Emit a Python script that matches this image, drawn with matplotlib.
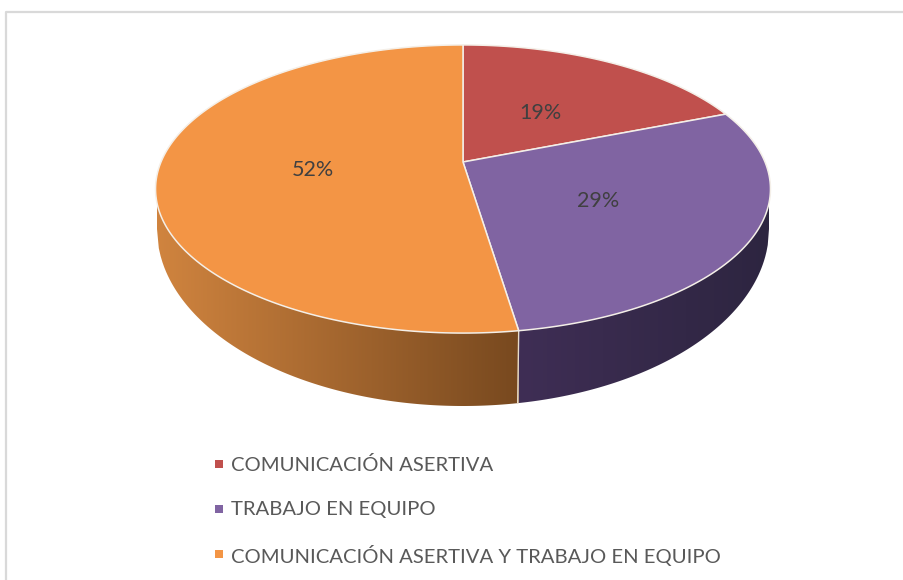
import numpy as np
import matplotlib
matplotlib.use('Agg')
import matplotlib.pyplot as plt
from matplotlib.colors import LinearSegmentedColormap
from matplotlib.patches import PathPatch, Rectangle
from matplotlib.path import Path

plt.rcParams['font.family'] = ['Lato', 'DejaVu Sans']

# data
categories = ['COMUNICACIÓN ASERTIVA', 'TRABAJO EN EQUIPO',
              'COMUNICACIÓN ASERTIVA Y TRABAJO EN EQUIPO']
values = [19.0, 28.6, 52.4]
pct_labels = ['19%', '29%', '52%']
colors = ['#C0504D', '#8064A2', '#F39545']

# pie geometry in image pixels
cx, cy = 463, 162
A, B, k = 302, 139, 0.1875
bot_cy, bot_a, bot_b = 229, 306, 177


def top_xy(t):
    # t is clockwise from 12 o'clock, perspective tilt on the top face
    X, Y = np.sin(t), np.cos(t)
    w = 1 + k * Y
    return cx + A * X / w, cy - B * Y / w


def bottom_y(x):
    return bot_cy + bot_b * np.sqrt(np.clip(1 - ((x - cx) / bot_a) ** 2, 0, 1))


def side(ax, x0, x1, c0, c1):
    # gradient wall between x0 and x1, top of it is hidden under the top face
    xs = np.linspace(x0, x1, 200)
    ys = bottom_y(xs)
    verts = np.column_stack([np.r_[xs, x1, x0], np.r_[ys, 190, 190]])
    patch = PathPatch(Path(np.vstack([verts, verts[0]]), closed=True),
                      fc='none', ec='none', transform=ax.transData)
    ax.add_patch(patch)
    cmap = LinearSegmentedColormap.from_list('wall', [c0, c1])
    im = ax.imshow(np.linspace(0, 1, 256)[None, :], cmap=cmap, aspect='auto',
                   extent=[x0, x1, 420, 140], zorder=2)
    im.set_clip_path(patch)


fig = plt.figure(figsize=(9.04, 5.80), dpi=100)
ax = fig.add_axes([0, 0, 1, 1])

edges = 2 * np.pi * np.r_[0, np.cumsum(values)] / sum(values)
seam_x, seam_y = top_xy(edges[2])

side(ax, cx - bot_a, seam_x, '#D0843F', '#78491F')
side(ax, seam_x, cx + bot_a, '#3F2E55', '#2D2540')
ax.plot([seam_x, seam_x - 1], [seam_y, bottom_y(seam_x - 1)],
        color='#E8DCCB', lw=1, zorder=3)

label_pos = [(540, 113), (598, 201), (313, 170)]
for i in range(3):
    t = np.linspace(edges[i], edges[i + 1], 200)
    x, y = top_xy(t)
    ax.fill(np.r_[cx, x], np.r_[cy, y], color=colors[i], ec='#F4EFE8', lw=1.1,
            zorder=4, joinstyle='round')
    ax.text(*label_pos[i], pct_labels[i], fontsize=15.5, color='#404040',
            ha='center', va='center', zorder=5)

# legend
legend_y = [465, 510, 555]
for name, col, y in zip(categories, colors, legend_y):
    ax.add_patch(Rectangle((215, y - 5), 8, 8, fc=col, ec='none', zorder=5))
    ax.text(231, y, name, fontsize=14.6, color='#595959', va='center', zorder=5)

# chart frame, cropped at right and bottom
ax.plot([6, 6, 904], [580, 12, 12], color='#D9D9D9', lw=1.6, zorder=1)

ax.set_xlim(0, 904)
ax.set_ylim(580, 0)
ax.axis('off')
fig.savefig('out.png', dpi=100)
